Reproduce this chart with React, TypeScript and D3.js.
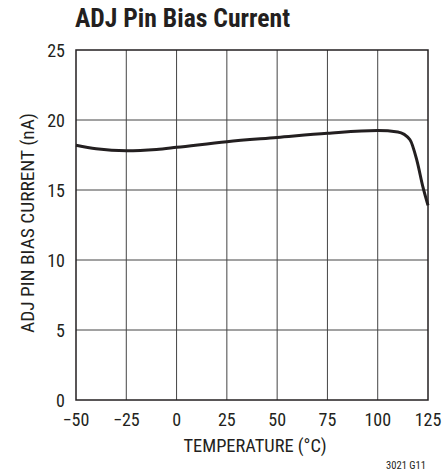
import React from "react";
import * as d3 from "d3";

const temps = [-50, -40, -25, -10, 0, 25, 50, 75, 100, 110, 116, 119.5, 122.5, 125];
const current = [18.2, 17.95, 17.8, 17.9, 18.05, 18.45, 18.75, 19.05, 19.25, 19.15, 18.6, 17.1, 15.2, 13.9];
const xTicks = [-50, -25, 0, 25, 50, 75, 100, 125];
const yTicks = [0, 5, 10, 15, 20, 25];

const W = 443, H = 474;
const left = 76, right = 428, top = 50, bottom = 400;
const FONT = "'Liberation Sans Narrow', 'Roboto Condensed', 'Arial Narrow', sans-serif";
const INK = "#231f20";

export default function App() {
  const x = d3.scaleLinear().domain([-50, 125]).range([left, right]);
  const y = d3.scaleLinear().domain([0, 25]).range([bottom, top]);
  const pts: [number, number][] = temps.map((t, i) => [t, current[i]]);
  const line = d3.line<[number, number]>().x(d => x(d[0])).y(d => y(d[1])).curve(d3.curveMonotoneX);
  const fmt = (v: number) => (v < 0 ? "\u2212" + Math.abs(v) : String(v));
  return (
    <svg width={W} height={H} style={{ position: "absolute", left: 0, top: 0, background: "#fff" }}>
      <text x={75} y={27} fontFamily={FONT} fontWeight="bold" fontSize={26} fill={INK}
        textLength={215} lengthAdjust="spacingAndGlyphs">ADJ Pin Bias Current</text>
      {xTicks.slice(1, -1).map(t => (
        <line key={"vx" + t} x1={x(t)} x2={x(t)} y1={top} y2={bottom} stroke="#444" strokeWidth={1} />
      ))}
      {yTicks.slice(1, -1).map(v => (
        <line key={"hy" + v} x1={left} x2={right} y1={y(v)} y2={y(v)} stroke="#444" strokeWidth={1} />
      ))}
      <rect x={left} y={top} width={right - left} height={bottom - top} fill="none" stroke={INK} strokeWidth={1.5} />
      <path d={line(pts) || ""} fill="none" stroke={INK} strokeWidth={3} strokeLinejoin="round" />
      {yTicks.map(v => (
        <text key={"yt" + v} x={65} y={y(v) + 6.5} textAnchor="end" fontFamily={FONT} fontSize={18} fill={INK}>{v}</text>
      ))}
      {xTicks.map(t => (
        <text key={"xt" + t} x={x(t)} y={426} textAnchor="middle" fontFamily={FONT} fontSize={18} fill={INK}>{fmt(t)}</text>
      ))}
      <text x={255} y={452} textAnchor="middle" fontFamily={FONT} fontSize={18.5} fill={INK}
        textLength={143} lengthAdjust="spacingAndGlyphs">TEMPERATURE (°C)</text>
      <text transform={`translate(34, 223) rotate(-90)`} textAnchor="middle" fontFamily={FONT} fontSize={18} fill={INK}
        textLength={220} lengthAdjust="spacingAndGlyphs">ADJ PIN BIAS CURRENT (nA)</text>
      <text x={426} y={469} textAnchor="end" fontFamily={FONT} fontSize={10.5} fill={INK}
        textLength={40} lengthAdjust="spacingAndGlyphs">3021 G11</text>
    </svg>
  );
}
